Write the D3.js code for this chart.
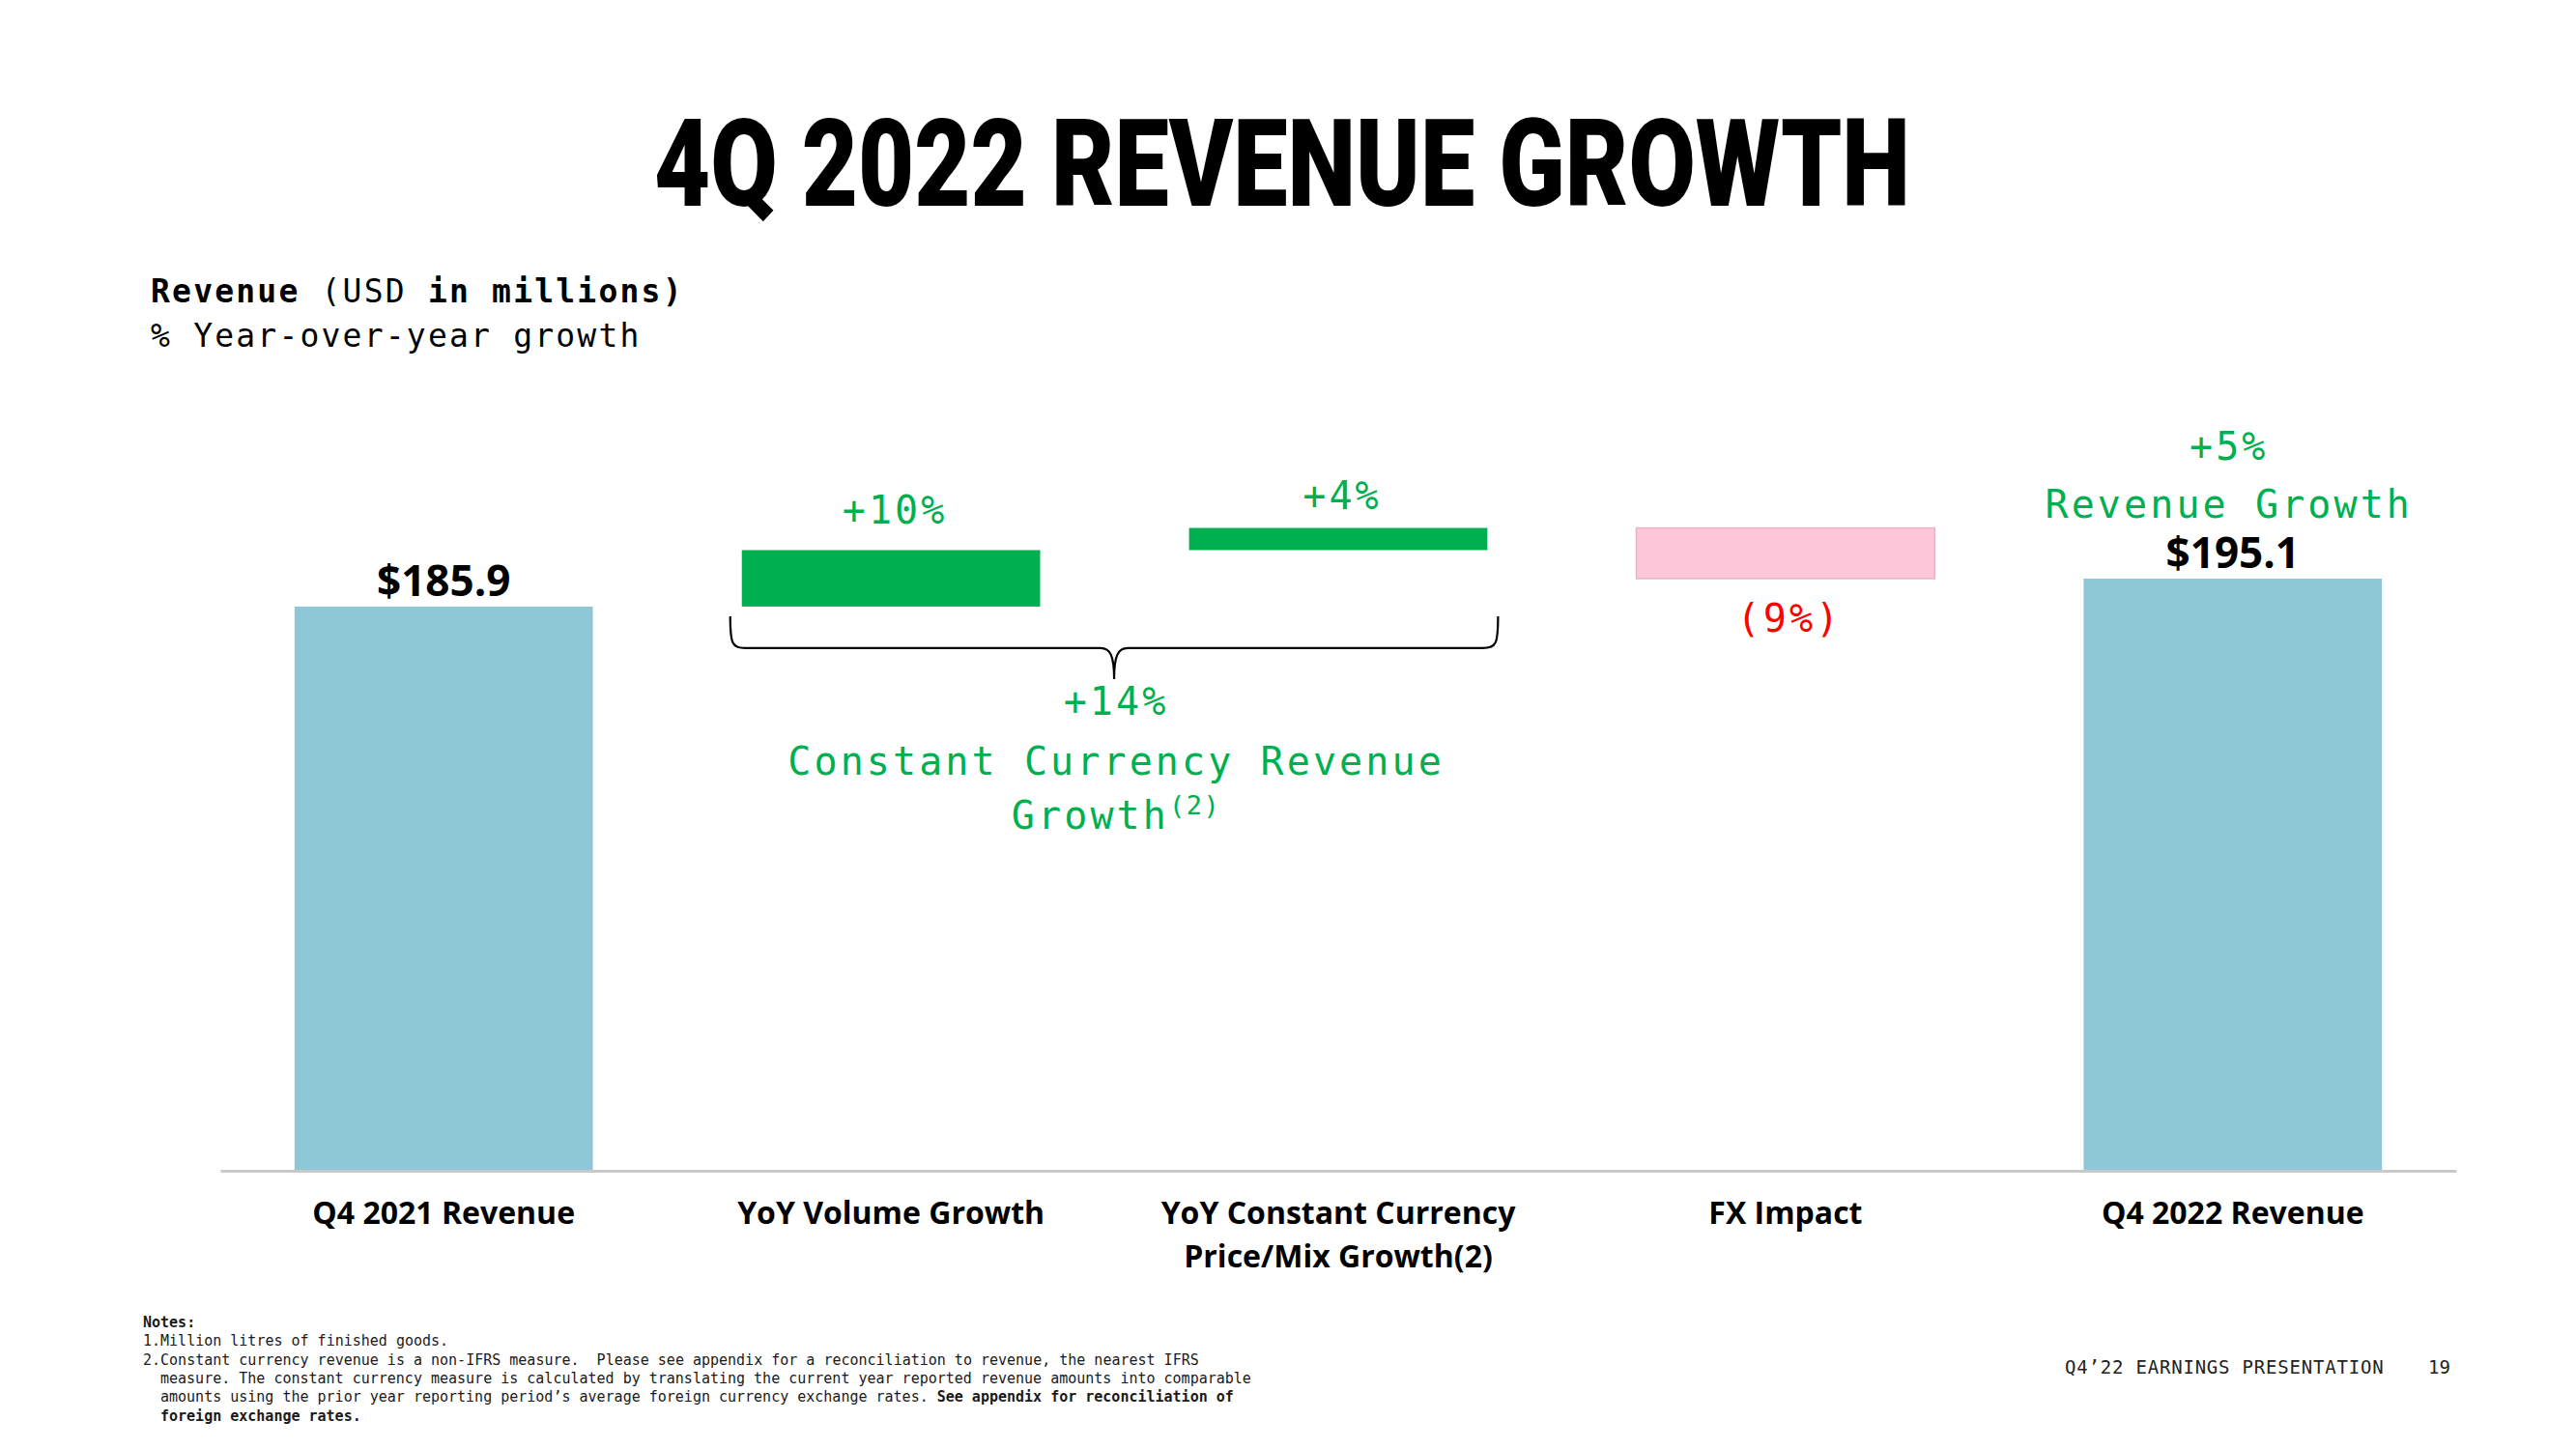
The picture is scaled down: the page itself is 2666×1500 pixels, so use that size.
<!DOCTYPE html>
<html>
<head>
<meta charset="utf-8">
<script src="https://cdn.jsdelivr.net/npm/d3@7/dist/d3.min.js"></script>
<style>
  html, body { margin: 0; padding: 0; background: #fff; }
  svg { display: block; }
  text { white-space: pre; }
</style>
</head>
<body>
<script>
// ---------------- data ----------------
const categories = [
  "Q4 2021 Revenue",
  "YoY Volume Growth",
  "YoY Constant Currency\nPrice/Mix Growth(2)",
  "FX Impact",
  "Q4 2022 Revenue"
];
const values = [185.9, 18.6, 7.3, -16.7, 195.1];
const kinds = ["total", "increase", "increase", "decrease", "total"];
const valueLabels = ["$185.9", "+10%", "+4%", "(9%)", "$195.1"];
const totalGrowthLabels = ["+5%", "Revenue Growth"];
const bracketLabels = ["+14%", "Constant Currency Revenue", "Growth", "(2)"];
const titleText = "4Q 2022 REVENUE GROWTH";
const subtitleLines = ["Revenue (USD in millions)", "% Year-over-year growth"];
const notesLines = [
  [["Notes:", true]],
  [["1.Million litres of finished goods.", false]],
  [["2.Constant currency revenue is a non-IFRS measure.  Please see appendix for a reconciliation to revenue, the nearest IFRS", false]],
  [["measure. The constant currency measure is calculated by translating the current year reported revenue amounts into comparable", false]],
  [["amounts using the prior year reporting period\u2019s average foreign currency exchange rates. ", false], ["See appendix for reconciliation of", true]],
  [["foreign exchange rates.", true]]
];
const footerText = "Q4\u201922 EARNINGS PRESENTATION";
const pageNumber = "19";

// ---------------- layout ----------------
const W = 2666, H = 1500;
const colors = { total: "#8EC7D5", increase: "#00B050", decrease: "#FFC7DA" };
const GREEN = "#00B050", RED = "#FF0000";
const MONO = "'DejaVu Sans Mono', 'Liberation Mono', monospace";
const SANS = "'Open Sans', 'Noto Sans', sans-serif";
const ANN_SIZE = 40, ANN_LS = 3.1;

const svg = d3.select("body").append("svg").attr("width", W).attr("height", H);
svg.append("rect").attr("width", W).attr("height", H).attr("fill", "#fff");

const x = d3.scaleBand().domain(categories).range([228, 2542]).paddingInner(0.333).paddingOuter(0.166);
const y = d3.scaleLinear().domain([0, 200]).range([1212, 583.6]);

// waterfall bases
let run = 0;
const bars = categories.map((c, i) => {
  let y0, y1;
  if (kinds[i] === "total") { y0 = 0; y1 = values[i]; run = values[i]; }
  else { y0 = run; y1 = run + values[i]; run = y1; }
  return { cat: c, kind: kinds[i], y0, y1, label: valueLabels[i], i };
});

function ann(xx, yy, txt, color) {
  return svg.append("text").attr("x", xx).attr("y", yy)
    .attr("text-anchor", "middle").attr("font-family", MONO)
    .attr("font-size", ANN_SIZE).attr("letter-spacing", ANN_LS).attr("fill", color)
    .text(txt);
}

// ---------------- title ----------------
svg.append("text")
  .attr("x", 1327).attr("y", 213)
  .attr("text-anchor", "middle")
  .attr("font-family", "Roboto, Inter, 'Liberation Sans', sans-serif")
  .attr("font-weight", 900)
  .attr("font-size", 126)
  .attr("textLength", 1300)
  .attr("lengthAdjust", "spacingAndGlyphs")
  .attr("fill", "#000")
  .text(titleText);

// ---------------- subtitle ----------------
const sub1 = svg.append("text").attr("x", 156).attr("y", 313)
  .attr("font-family", MONO).attr("font-size", 33).attr("letter-spacing", 2.2).attr("fill", "#000");
sub1.append("tspan").attr("font-weight", 700).text("Revenue");
sub1.append("tspan").attr("font-weight", 400).text(" (USD ");
sub1.append("tspan").attr("font-weight", 700).text("in millions)");
svg.append("text").attr("x", 156).attr("y", 359)
  .attr("font-family", MONO).attr("font-size", 33).attr("letter-spacing", 2.2).attr("fill", "#000")
  .text(subtitleLines[1]);

// ---------------- bars ----------------
svg.append("g").selectAll("rect").data(bars).join("rect")
  .attr("x", d => x(d.cat))
  .attr("width", x.bandwidth())
  .attr("y", d => y(Math.max(d.y0, d.y1)))
  .attr("height", d => Math.abs(y(d.y0) - y(d.y1)))
  .attr("fill", d => colors[d.kind])
  .attr("stroke", d => d.kind === "decrease" ? "#E8B4C4" : "none")
  .attr("stroke-width", 1.5);

// ---------------- axis ----------------
const axisG = svg.append("g").attr("transform", `translate(0,${y(0)})`)
  .call(d3.axisBottom(x).tickSize(0).tickSizeOuter(0));
axisG.attr("font-family", SANS).attr("font-size", 32);
axisG.select(".domain").attr("stroke", "#C9C9C9").attr("stroke-width", 3);
axisG.selectAll(".tick text").each(function (d) {
  const t = d3.select(this);
  t.text(null).attr("y", 0).attr("dy", null)
    .attr("font-weight", 700).attr("fill", "#000");
  d.split("\n").forEach((line, i) => {
    t.append("tspan").attr("x", 0).attr("y", 55 + i * 45).text(line);
  });
});

// ---------------- value labels ----------------
bars.forEach(d => {
  const cx = x(d.cat) + x.bandwidth() / 2;
  const top = y(Math.max(d.y0, d.y1));
  const bottom = y(Math.min(d.y0, d.y1));
  if (d.kind === "total") {
    svg.append("text").attr("x", cx).attr("y", top - 11)
      .attr("text-anchor", "middle").attr("font-family", SANS)
      .attr("font-weight", 700).attr("font-size", 44).attr("fill", "#000")
      .text(d.label);
  } else if (d.kind === "increase") {
    ann(cx + 4, top - (d.i === 1 ? 27 : 20), d.label, GREEN);
  } else {
    ann(cx + 4, bottom + 55, d.label, RED);
  }
});

// total growth labels above last bar
{
  const last = bars[bars.length - 1];
  const cx = x(last.cat) + x.bandwidth() / 2;
  const top = y(last.y1);
  ann(cx - 4, top - 123, totalGrowthLabels[0], GREEN);
  ann(cx - 4, top - 63, totalGrowthLabels[1], GREEN);
}

// ---------------- brace ----------------
{
  const left = x(categories[1]) - 12;
  const right = x(categories[2]) + x.bandwidth() + 11;
  const top = y(values[0]) + 10;
  const mid = top + 33;
  const tipY = top + 65;
  const cx = (left + right) / 2;
  const p = d3.path();
  p.moveTo(left, top);
  p.bezierCurveTo(left, mid - 4, left + 2, mid, left + 16, mid);
  p.lineTo(cx - 14, mid);
  p.bezierCurveTo(cx - 4, mid, cx, mid + 8, cx, tipY);
  p.moveTo(cx, tipY);
  p.bezierCurveTo(cx, mid + 8, cx + 4, mid, cx + 14, mid);
  p.lineTo(right - 16, mid);
  p.bezierCurveTo(right - 2, mid, right, mid - 4, right, top);
  svg.append("path").attr("d", p.toString()).attr("fill", "none")
    .attr("stroke", "#000").attr("stroke-width", 2.2);

  ann(cx + 2, 740, bracketLabels[0], GREEN);
  ann(cx + 2, 802, bracketLabels[1], GREEN);
  const g3 = svg.append("text").attr("x", cx + 2).attr("y", 858)
    .attr("text-anchor", "middle").attr("font-family", MONO)
    .attr("font-size", ANN_SIZE).attr("letter-spacing", ANN_LS).attr("fill", GREEN);
  g3.append("tspan").text(bracketLabels[2]);
  g3.append("tspan").attr("font-size", 27).attr("letter-spacing", 1.5).attr("dy", -15).text(bracketLabels[3]);
}

// ---------------- notes ----------------
notesLines.forEach((segs, i) => {
  const xx = (i >= 3) ? 166 : 148;
  const yy = 1374 + i * 19.3;
  const t = svg.append("text").attr("x", xx).attr("y", yy)
    .attr("font-family", MONO).attr("font-size", 15).attr("fill", "#1a1a1a");
  segs.forEach(([s, b]) => t.append("tspan").attr("font-weight", b ? 700 : 400).text(s));
});

// ---------------- footer ----------------
svg.append("text").attr("x", 2137).attr("y", 1422)
  .attr("font-family", MONO).attr("font-size", 19).attr("letter-spacing", 0.8).attr("fill", "#222")
  .text(footerText);
svg.append("text").attr("x", 2513).attr("y", 1422)
  .attr("font-family", MONO).attr("font-size", 19).attr("fill", "#222")
  .text(pageNumber);
</script>
</body>
</html>
